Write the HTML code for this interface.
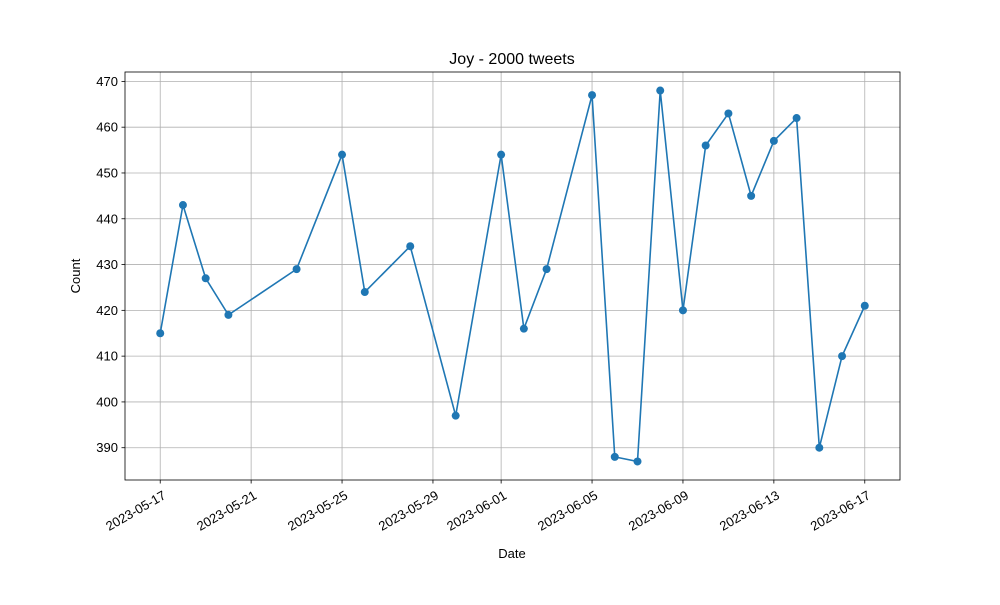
<!DOCTYPE html>
<html><head><meta charset="utf-8"><style>body{margin:0;background:#fff}svg{font-family:"Liberation Sans","DejaVu Sans",sans-serif}</style></head>
<body>
<svg id="c" width="1000" height="600"></svg>
<script>
const dayOffsets=[0,1,2,3,6,8,9,11,13,15,16,17,19,20,21,22,23,24,25,26,27,28,29,30,31];
const counts=[415,443,427,419,429,454,424,434,397,454,416,429,467,388,387,468,420,456,463,445,457,462,390,410,421];
const xTickDays=[0,4,8,12,15,19,23,27,31];
const xTickLabels=["2023-05-17","2023-05-21","2023-05-25","2023-05-29","2023-06-01","2023-06-05","2023-06-09","2023-06-13","2023-06-17"];
const yTicks=[390,400,410,420,430,440,450,460,470];
const L=125,R=900,T=72,B=480;
const xmin=-1.55,xmax=32.55,ymin=382.95,ymax=472.05;
const X=d=>L+(d-xmin)/(xmax-xmin)*(R-L);
const Y=v=>B-(v-ymin)/(ymax-ymin)*(B-T);
const s=document.getElementById('c');const NS='http://www.w3.org/2000/svg';
function el(t,a,p){const e=document.createElementNS(NS,t);for(const k in a)e.setAttribute(k,a[k]);(p||s).appendChild(e);return e;}
let g=el('g',{});


xTickDays.forEach((d,i)=>{const x=X(d);
el('line',{x1:x,x2:x,y1:T,y2:B,stroke:'#b0b0b0','stroke-width':0.8},g);
el('line',{x1:x,x2:x,y1:B,y2:B+3.5,stroke:'#000','stroke-width':0.8});
const t=el('text',{x:x+2,y:B+10,'font-size':13,'text-anchor':'end',transform:`rotate(-30 ${x+2} ${B+10})`,dy:'0.7em'});
t.textContent=xTickLabels[i];

});
yTicks.forEach(v=>{const y=Y(v);
el('line',{x1:L,x2:R,y1:y,y2:y,stroke:'#b0b0b0','stroke-width':0.8},g);
el('line',{x1:L-3.5,x2:L,y1:y,y2:y,stroke:'#000','stroke-width':0.8});
const t=el('text',{x:L-7,y:y+4.5,'font-size':13,'text-anchor':'end'});t.textContent=v;

});
const pts=dayOffsets.map((d,i)=>X(d)+','+Y(counts[i])).join(' ');
const line=el('polyline',{points:pts,fill:'none',stroke:'#1f77b4','stroke-width':1.6});


dayOffsets.forEach((d,i)=>{const c=el('circle',{cx:X(d),cy:Y(counts[i]),r:4,fill:'#1f77b4'});

});
const fr=el('rect',{x:L,y:T,width:R-L,height:B-T,fill:'none',stroke:'#000','stroke-width':0.8});


let t=el('text',{x:512,y:64,'font-size':16,'text-anchor':'middle'});t.textContent='Joy - 2000 tweets';


t=el('text',{x:512,y:558,'font-size':13,'text-anchor':'middle'});t.textContent='Date';


t=el('text',{x:80,y:276,'font-size':13,'text-anchor':'middle',transform:'rotate(-90 80 276)'});t.textContent='Count';


</script>
</body></html>
